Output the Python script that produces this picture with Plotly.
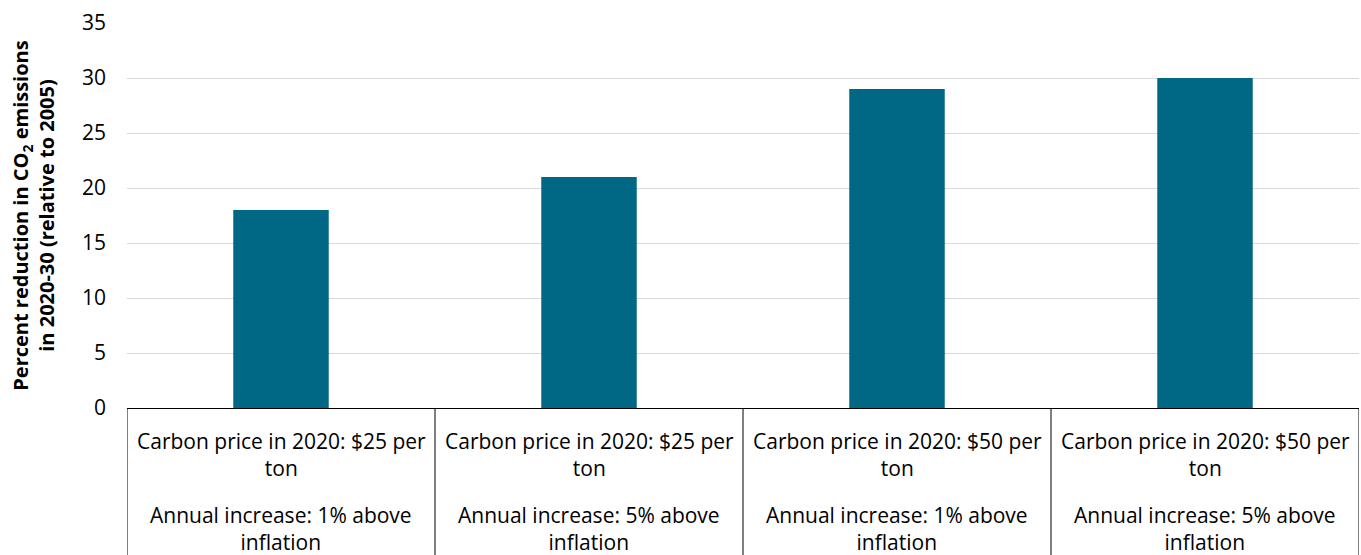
import plotly.graph_objects as go

# Scenario descriptions (two parts per scenario) and modelled reductions
price_2020 = ["$25 per ton", "$25 per ton", "$50 per ton", "$50 per ton"]
annual_increase = ["1% above inflation", "5% above inflation", "1% above inflation", "5% above inflation"]
reduction_pct = [18, 21, 29, 30]

y_ticks = [0, 5, 10, 15, 20, 25, 30, 35]

BAR_COLOR = "#006884"
FONT = "Open Sans"
LABEL_SIZE = 21


def two_lines(prefix, phrase):
    head, tail = phrase.rsplit(" ", 1)
    return f"{prefix}{head}<br>{tail}"


positions = list(range(len(reduction_pct)))

fig = go.Figure(
    go.Bar(
        x=positions,
        y=reduction_pct,
        marker=dict(color=BAR_COLOR, line=dict(width=0)),
        width=0.31,
    )
)

# Category descriptions set in boxes below the axis
for pos, price, inc in zip(positions, price_2020, annual_increase):
    fig.add_annotation(x=pos, xref="x", y=0, yref="paper", yanchor="middle",
                       yshift=-46, showarrow=False,
                       text=two_lines("Carbon price in 2020: ", price),
                       font=dict(size=LABEL_SIZE, color="#000000"))
    fig.add_annotation(x=pos, xref="x", y=0, yref="paper", yanchor="middle",
                       yshift=-120, showarrow=False,
                       text=two_lines("Annual increase: ", inc),
                       font=dict(size=LABEL_SIZE, color="#000000"))

# Box borders separating the category labels
boundaries = [p - 0.5 for p in positions] + [positions[-1] + 0.5]
for b in boundaries:
    fig.add_shape(type="line", xref="x", yref="paper", x0=b, x1=b, y0=0, y1=-0.5,
                  line=dict(color="#000000", width=1))

fig.update_layout(
    width=1361,
    height=555,
    margin=dict(l=127, r=2, t=23, b=147),
    paper_bgcolor="white",
    plot_bgcolor="white",
    showlegend=False,
    font=dict(family=FONT, color="#000000", size=20),
    xaxis=dict(
        range=[-0.5, len(reduction_pct) - 0.5],
        showticklabels=False,
        showgrid=False,
        zeroline=False,
        showline=True,
        linecolor="#000000",
        linewidth=1,
        ticks="",
    ),
    yaxis=dict(
        range=[0, 35],
        tickmode="array",
        tickvals=y_ticks,
        tickfont=dict(size=21, color="#000000"),
        showgrid=True,
        gridcolor="#d9d9d9",
        gridwidth=1,
        zeroline=False,
        showline=False,
        ticks="",
        ticklabelstandoff=20,
        title=dict(
            text="<b>Percent reduction in CO<sub>2</sub> emissions<br>in 2020-30 (relative to 2005)</b>",
            font=dict(size=20, color="#000000"),
            standoff=21,
        ),
    ),
)

fig.write_html("out.html")
